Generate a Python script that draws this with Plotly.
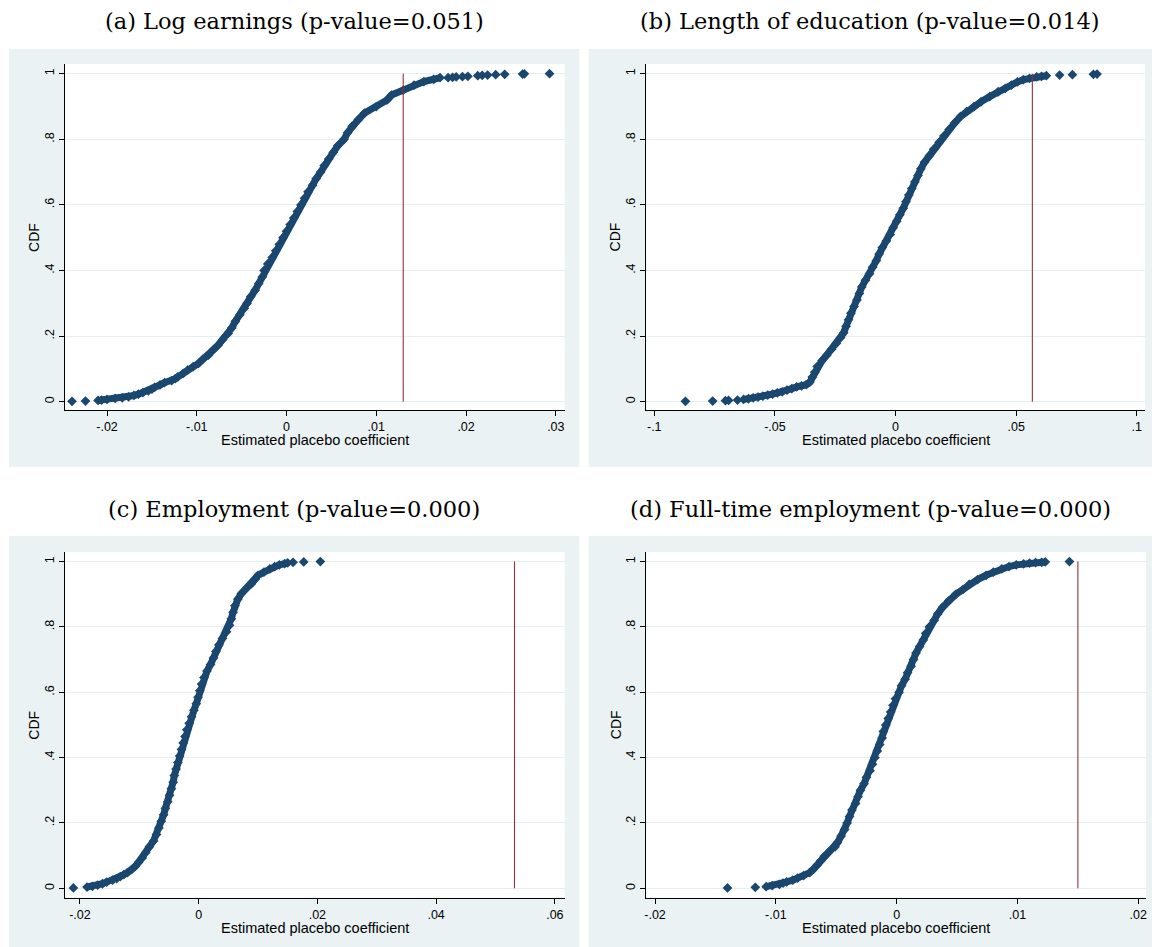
import plotly.graph_objects as go

W, H = 1157, 947

# ---------------- data ----------------
a_cdf = [0.001, 0.002, 0.004, 0.005, 0.007, 0.010, 0.012, 0.015, 0.019, 0.023, 0.028, 0.033, 0.038, 0.044,
         0.051, 0.058, 0.064, 0.070, 0.076, 0.086, 0.097, 0.107, 0.117, 0.130, 0.142, 0.157, 0.173, 0.190,
         0.208, 0.225, 0.245, 0.265, 0.285, 0.300, 0.320, 0.340, 0.360, 0.380, 0.400, 0.420, 0.440, 0.460,
         0.480, 0.500, 0.520, 0.540, 0.560, 0.580, 0.600, 0.620, 0.640, 0.660, 0.680, 0.700, 0.720, 0.740,
         0.760, 0.780, 0.800, 0.820, 0.840, 0.860, 0.880, 0.900, 0.920, 0.935, 0.950, 0.965, 0.976, 0.983,
         0.988, 0.988, 0.989, 0.990, 0.991, 0.992, 0.994, 0.995, 0.996, 0.997, 0.998, 0.999, 0.9995, 1.000]
a_coef = [-0.0239, -0.0224, -0.0210, -0.0206, -0.0200, -0.0191, -0.0183, -0.0176, -0.0170, -0.0165, -0.0160,
          -0.0154, -0.0150, -0.0147, -0.0141, -0.0136, -0.0128, -0.0124, -0.0121, -0.0115, -0.0110, -0.0104,
          -0.0098, -0.0093, -0.0087, -0.0082, -0.0076, -0.0071, -0.0065, -0.0061, -0.0057, -0.0052, -0.0047,
          -0.0044, -0.0040, -0.0035, -0.0031, -0.0027, -0.0025, -0.0021, -0.0016, -0.0012, -0.0008, -0.0004,
          0.0000, 0.0004, 0.0008, 0.0012, 0.0016, 0.0020, 0.0024, 0.0029, 0.0033, 0.0038, 0.0042, 0.0047,
          0.0052, 0.0057, 0.0064, 0.0068, 0.0073, 0.0080, 0.0087, 0.0100, 0.0112, 0.0117, 0.0130, 0.0142,
          0.0153, 0.0164, 0.0171, 0.0180, 0.0185, 0.0189, 0.0196, 0.0202, 0.0213, 0.0218, 0.0224, 0.0233,
          0.0243, 0.0263, 0.0265, 0.0293]

b_cdf = [0.001, 0.002, 0.003, 0.004, 0.005, 0.007, 0.009, 0.012, 0.014, 0.017, 0.020, 0.023, 0.027, 0.030,
         0.035, 0.040, 0.045, 0.048, 0.052, 0.060, 0.075, 0.090, 0.107, 0.125, 0.142, 0.160, 0.178, 0.195,
         0.210, 0.230, 0.250, 0.270, 0.290, 0.310, 0.330, 0.350, 0.370, 0.390, 0.410, 0.430, 0.450, 0.470,
         0.490, 0.510, 0.530, 0.550, 0.570, 0.590, 0.610, 0.630, 0.650, 0.670, 0.690, 0.710, 0.730, 0.750,
         0.770, 0.790, 0.810, 0.830, 0.850, 0.870, 0.885, 0.900, 0.915, 0.930, 0.945, 0.955, 0.965, 0.975,
         0.982, 0.986, 0.990, 0.992, 0.994, 0.996, 0.997, 0.998, 0.999]
b_coef = [-0.0871, -0.0758, -0.0705, -0.0692, -0.0655, -0.0630, -0.0610, -0.0590, -0.0570, -0.0550, -0.0530,
          -0.0510, -0.0490, -0.0470, -0.0450, -0.0430, -0.0410, -0.0390, -0.0370, -0.0355, -0.0345, -0.0335,
          -0.0325, -0.0305, -0.0285, -0.0265, -0.0245, -0.0228, -0.0215, -0.0205, -0.0195, -0.0185, -0.0172,
          -0.0160, -0.0150, -0.0140, -0.0125, -0.0108, -0.0095, -0.0080, -0.0068, -0.0055, -0.0038, -0.0022,
          -0.0010, 0.0005, 0.0018, 0.0032, 0.0043, 0.0055, 0.0067, 0.0080, 0.0093, 0.0105, 0.0120, 0.0140,
          0.0158, 0.0180, 0.0200, 0.0222, 0.0245, 0.0270, 0.0295, 0.0325, 0.0355, 0.0390, 0.0425, 0.0455,
          0.0480, 0.0505, 0.0530, 0.0555, 0.0585, 0.0605, 0.0625, 0.0680, 0.0733, 0.0820, 0.0835]

c_cdf = [0.001, 0.004, 0.006, 0.010, 0.014, 0.019, 0.025, 0.030, 0.036, 0.042, 0.048, 0.057, 0.067, 0.080,
         0.093, 0.110, 0.127, 0.145, 0.165, 0.185, 0.205, 0.225, 0.245, 0.265, 0.285, 0.305, 0.325, 0.345,
         0.365, 0.385, 0.405, 0.425, 0.445, 0.465, 0.485, 0.505, 0.525, 0.545, 0.565, 0.585, 0.605, 0.625,
         0.645, 0.665, 0.685, 0.705, 0.725, 0.745, 0.765, 0.785, 0.805, 0.825, 0.845, 0.865, 0.885, 0.902,
         0.917, 0.932, 0.945, 0.958, 0.968, 0.978, 0.985, 0.990, 0.994, 0.996, 0.998, 0.999, 1.000]
c_coef = [-0.0211, -0.0188, -0.0179, -0.0170, -0.0162, -0.0155, -0.0145, -0.0138, -0.0132, -0.0126, -0.0120,
          -0.0113, -0.0107, -0.0101, -0.0095, -0.0089, -0.0083, -0.0076, -0.0071, -0.0067, -0.0063, -0.0059,
          -0.0056, -0.0052, -0.0049, -0.0046, -0.0043, -0.0041, -0.0038, -0.0035, -0.0032, -0.0029, -0.0026,
          -0.0023, -0.0020, -0.0016, -0.0012, -0.0008, -0.0004, -0.0001, 0.0002, 0.0005, 0.0009, 0.0014,
          0.0020, 0.0025, 0.0029, 0.0034, 0.0040, 0.0047, 0.0052, 0.0055, 0.0058, 0.0061, 0.0066, 0.0072,
          0.0080, 0.0089, 0.0095, 0.0100, 0.0110, 0.0120, 0.0128, 0.0136, 0.0145, 0.0150, 0.0159, 0.0177,
          0.0205]

d_cdf = [0.001, 0.003, 0.005, 0.008, 0.012, 0.016, 0.020, 0.025, 0.031, 0.039, 0.048, 0.058, 0.070, 0.084,
         0.098, 0.112, 0.127, 0.140, 0.160, 0.180, 0.200, 0.220, 0.240, 0.260, 0.280, 0.300, 0.320, 0.340,
         0.360, 0.380, 0.400, 0.420, 0.440, 0.460, 0.480, 0.500, 0.520, 0.540, 0.560, 0.580, 0.600, 0.620,
         0.640, 0.660, 0.680, 0.700, 0.720, 0.740, 0.760, 0.780, 0.800, 0.820, 0.840, 0.860, 0.880, 0.900,
         0.915, 0.930, 0.945, 0.958, 0.968, 0.978, 0.985, 0.990, 0.993, 0.995, 0.997, 0.998, 0.999, 1.000]
d_coef = [-0.0140, -0.0117, -0.0108, -0.0103, -0.0097, -0.0094, -0.0091, -0.0086, -0.0082, -0.0077, -0.0072,
          -0.0069, -0.0066, -0.0063, -0.0060, -0.0056, -0.0051, -0.0049, -0.0046, -0.0043, -0.0041, -0.0039,
          -0.0037, -0.0034, -0.0032, -0.0030, -0.0027, -0.0025, -0.0022, -0.0020, -0.0018, -0.0016, -0.0014,
          -0.0012, -0.0011, -0.0009, -0.0007, -0.0005, -0.0003, -0.0001, 0.0002, 0.0004, 0.0007, 0.0009,
          0.0012, 0.0014, 0.0016, 0.0019, 0.0022, 0.0024, 0.0027, 0.0031, 0.0034, 0.0038, 0.0043, 0.0049,
          0.0055, 0.0060, 0.0067, 0.0074, 0.0080, 0.0087, 0.0093, 0.0099, 0.0105, 0.0110, 0.0115, 0.0120,
          0.0123, 0.0143]

actual_coef = [0.0130, 0.0567, 0.0532, 0.0150]

titles = ["(a) Log earnings (p-value=0.051)",
          "(b) Length of education (p-value=0.014)",
          "(c) Employment (p-value=0.000)",
          "(d) Full-time employment (p-value=0.000)"]

x_tickvals = [[-0.02, -0.01, 0, 0.01, 0.02, 0.03],
              [-0.1, -0.05, 0, 0.05, 0.1],
              [-0.02, 0, 0.02, 0.04, 0.06],
              [-0.02, -0.01, 0, 0.01, 0.02]]
x_ticktext = [["-.02", "-.01", "0", ".01", ".02", ".03"],
              ["-.1", "-.05", "0", ".05", ".1"],
              ["-.02", "0", ".02", ".04", ".06"],
              ["-.02", "-.01", "0", ".01", ".02"]]
y_tickvals = [0, 0.2, 0.4, 0.6, 0.8, 1]
y_ticktext = ["0", ".2", ".4", ".6", ".8", "1"]

x_title = "Estimated placebo coefficient"
y_title = "CDF"

# ---------------- styling / layout geometry (pixels) ----------------
MARK = "#1a476f"
RED = "#90353b"
BG = "#eaf2f3"
GRID = "#e6eef0"

# index span (start, stop) of the densely packed run of points in each panel,
# drawn as a continuous band; isolated points outside it are drawn as markers only
dense_span = [(2, 71), (5, 75), (1, 66), (2, 69)]

gray_boxes = [(7, 49, 579, 467), (588, 49, 1153, 467), (7, 536, 579, 947), (588, 536, 1153, 947)]
plot_boxes = [(63, 64, 564, 410), (646, 64, 1146, 410), (63, 552, 564, 897.6), (646, 552, 1147, 897.6)]
x_ranges = [[-0.0247, 0.03097], [-0.1033, 0.1034], [-0.02254, 0.06163], [-0.02072, 0.02064]]
y_ranges = [[-0.0253, 1.0296], [-0.0253, 1.0296], [-0.0284, 1.0294], [-0.0284, 1.0294]]
title_y = [21, 21, 509, 509]


def fx(px):
    return px / W


def fy(py):
    return 1 - py / H


datasets = [(a_coef, a_cdf), (b_coef, b_cdf), (c_coef, c_cdf), (d_coef, d_cdf)]
SANS = "Liberation Sans, Arial, sans-serif"

fig = go.Figure()
shapes = []
annotations = []
layout_axes = {}

for i in range(4):
    n = "" if i == 0 else str(i + 1)
    xs, ys = datasets[i]
    s, e = dense_span[i]
    fig.add_trace(go.Scatter(
        x=xs[s:e], y=ys[s:e], mode="lines", xaxis="x" + n, yaxis="y" + n,
        line=dict(color=MARK, width=7),
        showlegend=False, hoverinfo="skip"))
    fig.add_trace(go.Scatter(
        x=xs, y=ys, mode="markers", xaxis="x" + n, yaxis="y" + n,
        marker=dict(symbol="diamond", size=7.5, color=MARK, line=dict(width=0)),
        showlegend=False, hoverinfo="skip"))

    gx0, gy0, gx1, gy1 = gray_boxes[i]
    px0, py0, px1, py1 = plot_boxes[i]
    shapes.append(dict(type="rect", xref="paper", yref="paper", x0=fx(gx0), x1=fx(gx1),
                       y0=fy(gy1), y1=fy(gy0), fillcolor=BG, line=dict(width=0), layer="below"))
    shapes.append(dict(type="rect", xref="paper", yref="paper", x0=fx(px0), x1=fx(px1),
                       y0=fy(py1), y1=fy(py0), fillcolor="white", line=dict(width=0), layer="below"))
    shapes.append(dict(type="line", xref="x" + n, yref="y" + n, x0=actual_coef[i], x1=actual_coef[i],
                       y0=0, y1=1, line=dict(color=RED, width=1.1), layer="above"))

    layout_axes["xaxis" + n] = dict(
        domain=[fx(px0), fx(px1)], range=x_ranges[i], anchor="y" + n,
        tickvals=x_tickvals[i], ticktext=x_ticktext[i], ticks="outside", ticklen=5,
        tickcolor="black", tickwidth=1, showline=True, linecolor="black", linewidth=1,
        showgrid=False, zeroline=False, fixedrange=True,
        tickfont=dict(family=SANS, size=12.5, color="black"))
    layout_axes["yaxis" + n] = dict(
        domain=[fy(py1), fy(py0)], range=y_ranges[i], anchor="x" + n,
        tickvals=y_tickvals, ticktext=y_ticktext, ticks="outside", ticklen=5, tickangle=-90,
        tickcolor="black", tickwidth=1, showline=True, linecolor="black", linewidth=1,
        showgrid=True, gridcolor=GRID, gridwidth=1, zeroline=False, fixedrange=True,
        tickfont=dict(family=SANS, size=12.5, color="black"))

    # panel title
    annotations.append(dict(text=titles[i], xref="paper", yref="paper", x=fx((gx0 + gx1) / 2),
                            y=fy(title_y[i]), xanchor="center", yanchor="middle", showarrow=False,
                            font=dict(family="DejaVu Serif, serif", size=22.5, color="black")))
    # axis titles
    annotations.append(dict(text=x_title, xref="paper", yref="paper", x=fx((px0 + px1) / 2),
                            y=fy(py1 + 30), xanchor="center", yanchor="middle", showarrow=False,
                            font=dict(family=SANS, size=14.5, color="black")))
    annotations.append(dict(text=y_title, xref="paper", yref="paper", x=fx(px0 - 31),
                            y=fy((py0 + py1) / 2), xanchor="center", yanchor="middle", showarrow=False,
                            textangle=-90,
                            font=dict(family=SANS, size=14, color="black")))

fig.update_layout(
    width=W, height=H, autosize=False,
    margin=dict(l=0, r=0, t=0, b=0),
    paper_bgcolor="white", plot_bgcolor="rgba(0,0,0,0)",
    shapes=shapes, annotations=annotations, showlegend=False,
    **layout_axes)

fig.write_html("out.html", config={"displayModeBar": False},
               post_script="document.body.style.margin='0px';document.body.style.overflow='hidden';")
